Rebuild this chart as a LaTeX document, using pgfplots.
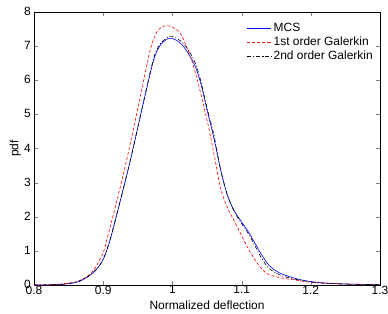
\documentclass[border=0pt]{standalone}
\usepackage{pgfplots}
\pgfplotsset{compat=1.18}
\usepackage{fontspec}
\setmainfont{Liberation Sans}
\begin{document}
\begin{tikzpicture}
\begin{axis}[
  name=ax,
  scale only axis,
  width=346bp, height=273bp,
  xmin=0.8, xmax=1.3, ymin=0, ymax=8,
  xtick={0.8,0.9,1,1.1,1.2,1.3},
  xticklabels={0.8,0.9,1,1.1,1.2,1.3},
  ytick={0,1,2,3,4,5,6,7,8},
  tick align=inside,
  major tick length=4bp,
  xlabel={Normalized deflection},
  ylabel={pdf},
  /pgf/number format/assume math mode=true,
  tick label style={font=\fontsize{12}{14}\selectfont},
  label style={font=\fontsize{12}{14}\selectfont},
  xticklabel style={inner sep=0pt, yshift=-0.5bp},
  yticklabel style={inner sep=0pt, xshift=-3bp, yshift=0.5bp},
  xlabel style={at={(axis description cs:0.5,0)}, anchor=north, inner sep=0pt, yshift=-16bp},
  ylabel style={at={(axis description cs:0,0.5)}, anchor=south, inner sep=0pt, yshift=13bp},
  legend style={draw=none, fill=none, at={(0.615,0.967)}, anchor=north west,
    font=\fontsize{12}{14}\selectfont, row sep=0bp, inner sep=0pt,
    /tikz/every even column/.append style={column sep=1pt}},
  legend cell align=left,
  legend image code/.code={\draw[mark repeat=2,mark phase=2,#1] plot coordinates {(0cm,0cm) (0.425cm,0cm) (0.85cm,0cm)};},
  every axis plot/.append style={line width=0.6pt},
]
\addplot[blue, solid, smooth] coordinates {
(0.80,0) (0.82,0.005) (0.84,0.02) (0.86,0.07) (0.87,0.15) (0.88,0.27) (0.89,0.45)
(0.90,0.75) (0.91,1.32) (0.925,2.49) (0.94,3.72) (0.958,5.33) (0.973,6.6)
(0.983,7.04) (0.995,7.23) (1.005,7.18) (1.016,6.99) (1.031,6.5) (1.041,5.91)
(1.05,5.13) (1.06,4.3) (1.07,3.35) (1.08,2.6) (1.09,2.15) (1.10,1.85) (1.11,1.55)
(1.12,1.2) (1.13,0.85) (1.14,0.57) (1.15,0.41) (1.16,0.31) (1.18,0.18) (1.2,0.1)
(1.22,0.06) (1.25,0.03) (1.3,0.01)
};
\addlegendentry{MCS}
\addplot[red, dash pattern=on 3pt off 2pt, smooth] coordinates {
(0.80,0) (0.82,0.005) (0.84,0.03) (0.86,0.09) (0.87,0.17) (0.88,0.3) (0.89,0.55)
(0.90,0.95) (0.905,1.3) (0.92,2.49) (0.934,3.67) (0.9536,5.52) (0.968,6.89)
(0.978,7.43) (0.99,7.6) (1.0,7.55) (1.012,7.36) (1.026,6.69) (1.036,6.01)
(1.05,4.84) (1.06,3.85) (1.07,2.8) (1.08,2.25) (1.09,1.85) (1.10,1.45)
(1.11,1.05) (1.12,0.72) (1.13,0.45) (1.14,0.3) (1.16,0.2) (1.18,0.14)
(1.2,0.08) (1.25,0.03) (1.3,0.01)
};
\addlegendentry{1st order Galerkin}
\addplot[black, dash pattern=on 4pt off 2pt on 1pt off 2pt, smooth] coordinates {
(0.80,0) (0.82,0.005) (0.84,0.02) (0.86,0.08) (0.87,0.16) (0.88,0.28) (0.89,0.46)
(0.9,0.76) (0.91,1.34) (0.925,2.5) (0.94,3.72) (0.958,5.35) (0.973,6.65)
(0.983,7.08) (0.996,7.28) (1.006,7.23) (1.017,7.05) (1.031,6.6) (1.041,5.98)
(1.05,5.2) (1.06,4.4) (1.07,3.35) (1.08,2.6) (1.09,2.13) (1.1,1.8) (1.11,1.5)
(1.12,1.12) (1.13,0.75) (1.14,0.48) (1.15,0.35) (1.16,0.26) (1.18,0.16)
(1.2,0.09) (1.22,0.05) (1.25,0.025) (1.3,0.01)
};
\addlegendentry{2nd order Galerkin}
\end{axis}
\pgfresetboundingbox
\path ([shift={(-34bp,-28bp)}]ax.south west) rectangle ([shift={(8bp,12bp)}]ax.north east);
\end{tikzpicture}
\end{document}
